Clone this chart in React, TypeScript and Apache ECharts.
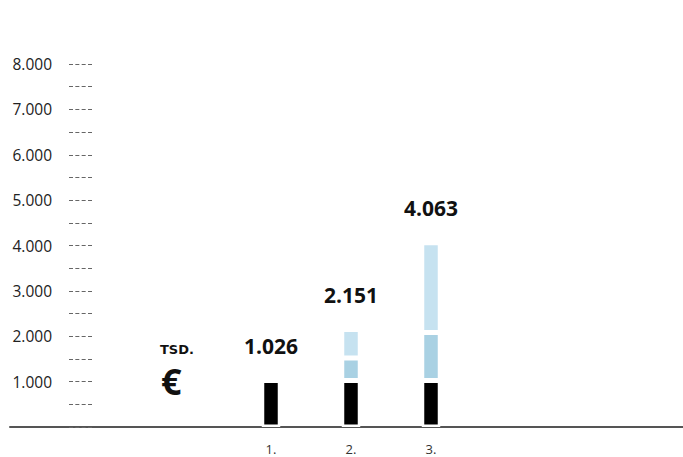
import React, { useEffect, useRef } from "react";
import * as echarts from "echarts";

const categories = ["1.", "2.", "3."];
const baseValues = [1026, 1026, 1026];
const midValues: (number | null)[] = [null, 492, 1058];
const topValues: (number | null)[] = [null, 633, 1979];
const totals = [1026, 2151, 4063];
const unitLabel = "TSD.";
const currencyLabel = "€";

const FONT = "'Open Sans', 'Noto Sans', sans-serif";

function fmt(v: number): string {
  return String(Math.round(v)).replace(/\B(?=(\d{3})+(?!\d))/g, ".");
}

export default function App() {
  const ref = useRef<HTMLDivElement>(null);
  useEffect(() => {
    if (!ref.current) return;
    const chart = echarts.init(ref.current, undefined, { renderer: "svg" });
    const gridTop = 64;
    const gridBottom = 30;
    chart.setOption({
      animation: false,
      backgroundColor: "#ffffff",
      grid: [
        { left: 10, right: 0, top: gridTop, bottom: gridBottom },
        { left: 231, width: 240, top: gridTop, bottom: gridBottom },
      ],
      xAxis: [
        {
          gridIndex: 0,
          type: "value",
          min: 0,
          max: 1,
          axisLine: { show: true, onZero: false, lineStyle: { color: "#555555", width: 2 } },
          axisTick: { show: false },
          axisLabel: { show: false },
          splitLine: { show: false },
        },
        {
          gridIndex: 1,
          type: "category",
          data: categories,
          axisLine: { show: false },
          axisTick: { show: false },
          axisLabel: {
            color: "#333333",
            fontSize: 13,
            fontFamily: FONT,
            margin: 15,
          },
        },
      ],
      yAxis: [
        {
          gridIndex: 0,
          type: "value",
          min: 0,
          max: 8000,
          show: false,
        },
        {
          gridIndex: 1,
          type: "value",
          min: 0,
          max: 8000,
          interval: 500,
          offset: 139,
          axisLine: { show: false },
          splitLine: { show: false },
          axisTick: {
            show: true,
            length: 23,
            lineStyle: { color: "#666666", width: 1, type: [4, 2.33] },
          },
          axisLabel: {
            margin: 40,
            color: "#222222",
            fontSize: 15.5,
            fontFamily: FONT,
            formatter: (v: number) => (v % 1000 === 0 && v > 0 ? fmt(v) : ""),
          },
        },
      ],
      series: [
        {
          type: "bar",
          xAxisIndex: 1,
          yAxisIndex: 1,
          stack: "total",
          barWidth: 18.5,
          data: baseValues,
          itemStyle: { color: "#000000", borderColor: "#ffffff", borderWidth: 2.5 },
        },
        {
          type: "bar",
          xAxisIndex: 1,
          yAxisIndex: 1,
          stack: "total",
          barWidth: 18.5,
          data: midValues,
          itemStyle: { color: "#a9d1e3", borderColor: "#ffffff", borderWidth: 2.5 },
        },
        {
          type: "bar",
          xAxisIndex: 1,
          yAxisIndex: 1,
          stack: "total",
          barWidth: 18.5,
          data: topValues,
          itemStyle: { color: "#c6e2f0", borderColor: "#ffffff", borderWidth: 2.5 },
        },
        {
          type: "bar",
          xAxisIndex: 1,
          yAxisIndex: 1,
          stack: "total",
          barWidth: 18.5,
          data: totals.map(() => 0),
          itemStyle: { color: "rgba(0,0,0,0)", borderWidth: 0 },
          label: {
            show: true,
            position: "top",
            distance: 24,
            color: "#111111",
            fontSize: 21,
            fontWeight: "bold",
            fontFamily: FONT,
            lineHeight: 21,
            formatter: (p: any) => fmt(totals[p.dataIndex]),
          },
        },
      ],
      graphic: [
        {
          type: "text",
          left: 160,
          top: 342,
          style: {
            text: unitLabel,
            fontSize: 13,
            lineHeight: 15,
            fontWeight: "bold",
            fontFamily: "'DejaVu Sans', sans-serif",
            fill: "#111111",
          },
        },
        {
          type: "text",
          left: 161,
          top: 363,
          style: {
            text: currencyLabel,
            fontSize: 36,
            lineHeight: 30,
            fontWeight: "bold",
            fontFamily: FONT,
            fill: "#111111",
          },
        },
      ],
    });
    return () => chart.dispose();
  }, []);
  return (
    <div
      ref={ref}
      style={{ position: "fixed", left: 0, top: 0, width: 683, height: 457 }}
    />
  );
}
